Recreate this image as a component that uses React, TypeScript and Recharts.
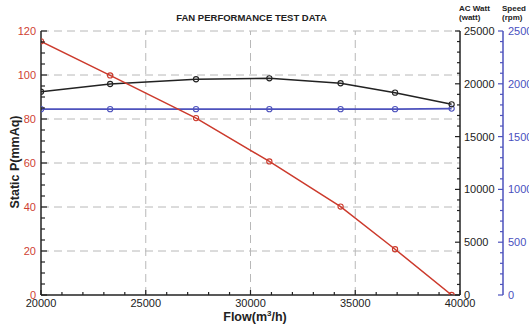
import React from 'react';
import { ComposedChart, Line, XAxis, YAxis, ReferenceLine } from 'recharts';

const flow = [20000, 23300, 27400, 30900, 34300, 36900, 39600];
const staticP = [115.3, 99.8, 80.4, 60.7, 40.2, 20.8, 0];
const acWatt = [19250, 19980, 20430, 20520, 20050, 19160, 18060];
const speed = [1760, 1760, 1760, 1760, 1760, 1760, 1765];

const flowTicks = [20000, 25000, 30000, 35000, 40000];
const pressureTicks = [0, 20, 40, 60, 80, 100, 120];
const wattTicks = [0, 5000, 10000, 15000, 20000, 25000];
const speedTicks = [0, 500, 1000, 1500, 2000, 2500];

const title = 'FAN PERFORMANCE TEST DATA';

const RED = '#cc3a2c';
const RED_TXT = '#cf3f33';
const BLACK = '#222222';
const BLUE = '#4d52bd';
const BLUE_TXT = '#4a4fc0';
const GRID = '#b8b8b8';
const FONT = '"Liberation Sans", Arial, Helvetica, sans-serif';

function withMinor(major: number[], parts: number): number[] {
  const out: number[] = [];
  for (let i = 0; i < major.length - 1; i++) {
    const step = (major[i + 1] - major[i]) / parts;
    for (let k = 0; k < parts; k++) out.push(major[i] + step * k);
  }
  out.push(major[major.length - 1]);
  return out;
}

const data = flow.map((f, i) => ({ flow: f, p: staticP[i], watt: acWatt[i], rpm: speed[i] }));

const LeftTick = (props: any) => {
  const { x, y, payload } = props;
  const major = pressureTicks.includes(payload.value);
  return (
    <g>
      <line x1={x} x2={x + (major ? 6 : 4)} y1={y} y2={y} stroke={BLACK} strokeWidth={1.2} />
      {major && (
        <text x={x - 5} y={y} dy={4} textAnchor="end" fill={RED_TXT} fontSize={11} fontFamily={FONT}>
          {payload.value}
        </text>
      )}
    </g>
  );
};

const WattTick = (props: any) => {
  const { x, y, payload } = props;
  const major = wattTicks.includes(payload.value);
  return (
    <g>
      <line x1={x - (major ? 5 : 3)} x2={x} y1={y} y2={y} stroke={BLACK} strokeWidth={1.2} />
      {major && (
        <text x={x + 4} y={y} dy={4} textAnchor="start" fill={BLACK} fontSize={11} fontFamily={FONT}>
          {payload.value}
        </text>
      )}
    </g>
  );
};

const SpeedTick = (props: any) => {
  const { x, y, payload } = props;
  const major = speedTicks.includes(payload.value);
  return (
    <g>
      <line x1={x - (major ? 5 : 3)} x2={x} y1={y} y2={y} stroke={BLUE} strokeWidth={1.2} />
      {major && (
        <text x={x + 5} y={y} dy={4} textAnchor="start" fill={BLUE_TXT} fontSize={11} fontFamily={FONT}>
          {payload.value}
        </text>
      )}
    </g>
  );
};

const BottomTick = (props: any) => {
  const { x, y, payload } = props;
  const major = flowTicks.includes(payload.value);
  return (
    <g>
      <line x1={x} x2={x} y1={y} y2={y - (major ? 5 : 3)} stroke={BLACK} strokeWidth={1.2} />
      {major && (
        <text x={x} y={y + 12} textAnchor="middle" fill={BLACK} fontSize={11} fontFamily={FONT}>
          {payload.value}
        </text>
      )}
    </g>
  );
};

const dot = (color: string) => ({ r: 2.6, fill: 'none', stroke: color, strokeWidth: 1.1 });

export default function App() {
  return (
    <div style={{ position: 'absolute', left: 0, top: 0, width: 529, height: 325, background: '#fff', fontFamily: FONT }}>
      <ComposedChart width={529} height={325} data={data} margin={{ top: 31, right: 0, bottom: 0, left: 0 }}>
        <XAxis
          dataKey="flow"
          type="number"
          domain={[20000, 40000]}
          ticks={withMinor(flowTicks, 5)}
          interval={0}
          height={30}
          tickSize={0}
          tickMargin={0}
          tick={<BottomTick />}
          tickLine={false}
          axisLine={{ stroke: BLACK, strokeWidth: 1.5 }}
          allowDataOverflow
        />
        <YAxis
          yAxisId="p"
          orientation="left"
          type="number"
          domain={[0, 120]}
          ticks={withMinor(pressureTicks, 4)}
          interval={0}
          width={41}
          tickSize={0}
          tickMargin={0}
          tick={<LeftTick />}
          tickLine={false}
          axisLine={{ stroke: BLACK, strokeWidth: 1.5 }}
          allowDataOverflow
        />
        <YAxis
          yAxisId="r1"
          orientation="right"
          type="number"
          domain={[0, 25000]}
          ticks={withMinor(wattTicks, 5)}
          interval={0}
          width={43}
          tickSize={0}
          tickMargin={0}
          tick={<WattTick />}
          tickLine={false}
          axisLine={{ stroke: BLACK, strokeWidth: 1.5 }}
          allowDataOverflow
        />
        <YAxis
          yAxisId="r2"
          orientation="right"
          type="number"
          domain={[0, 2500]}
          ticks={withMinor(speedTicks, 5)}
          interval={0}
          width={26}
          tickSize={0}
          tickMargin={0}
          tick={<SpeedTick />}
          tickLine={false}
          axisLine={{ stroke: BLUE, strokeWidth: 1.5 }}
          allowDataOverflow
        />
        {flowTicks.slice(1, -1).map((v) => (
          <ReferenceLine key={'vx' + v} x={v} yAxisId="p" stroke={GRID} strokeDasharray="8 5" strokeWidth={1} />
        ))}
        {pressureTicks.slice(1).map((v) => (
          <ReferenceLine key={'hy' + v} y={v} yAxisId="p" stroke={GRID} strokeDasharray="8 5" strokeWidth={1} />
        ))}
        <Line
          yAxisId="r2"
          dataKey="rpm"
          stroke={BLUE}
          strokeWidth={1.6}
          dot={dot(BLUE)}
          isAnimationActive={false}
        />
        <Line
          yAxisId="r1"
          dataKey="watt"
          stroke={BLACK}
          strokeWidth={1.6}
          dot={dot(BLACK)}
          isAnimationActive={false}
        />
        <Line
          yAxisId="p"
          dataKey="p"
          stroke={RED}
          strokeWidth={1.5}
          dot={dot(RED)}
          isAnimationActive={false}
        />
      </ComposedChart>
      <svg width={529} height={325} style={{ position: 'absolute', left: 0, top: 0, pointerEvents: 'none' }}>
        <text x={251.5} y={21} textAnchor="middle" fontSize={9.5} fontWeight="bold" fill={BLACK} fontFamily={FONT}>
          {title}
        </text>
        <text x={459} y={11} fontSize={8} fontWeight="bold" fill={BLACK} fontFamily={FONT}>AC Watt</text>
        <text x={459} y={20} fontSize={8} fontWeight="bold" fill={BLACK} fontFamily={FONT}>(watt)</text>
        <text x={502} y={11} fontSize={8} fontWeight="bold" fill={BLACK} fontFamily={FONT}>Speed</text>
        <text x={502} y={20} fontSize={8} fontWeight="bold" fill={BLACK} fontFamily={FONT}>(rpm)</text>
        <text
          transform="translate(18.5,162) rotate(-90)"
          textAnchor="middle"
          fontSize={12.5}
          fontWeight="bold"
          fill={BLACK}
          fontFamily={FONT}
        >
          Static P(mmAq)
        </text>
        <text x={255} y={321} textAnchor="middle" fontSize={12.5} fontWeight="bold" fill={BLACK} fontFamily={FONT}>
          Flow(m<tspan dy={-5} fontSize={8}>3</tspan><tspan dy={5}>/h)</tspan>
        </text>
      </svg>
    </div>
  );
}
